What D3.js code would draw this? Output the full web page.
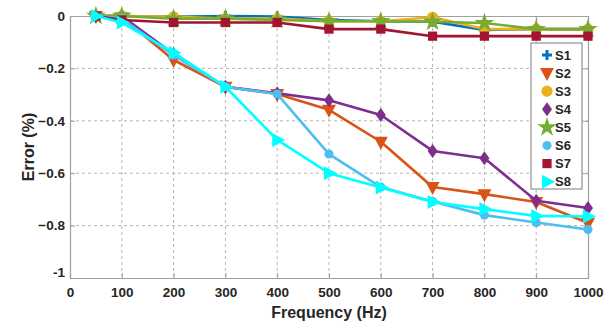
<!DOCTYPE html>
<html>
<head>
  <meta charset="utf-8">
  <title>Error vs Frequency</title>
  <script src="https://cdnjs.cloudflare.com/ajax/libs/d3/7.8.5/d3.min.js"></script>
  <style>
    body { margin: 0; background: #fff; }
    text { font-family: "Liberation Sans", Arial, sans-serif; font-weight: bold; fill: #262626; }
  </style>
</head>
<body>
<div id="chart"></div>
<script>

var freq = [50, 100, 200, 300, 400, 500, 600, 700, 800, 900, 1000];
var names = ['S1', 'S2', 'S3', 'S4', 'S5', 'S6', 'S7', 'S8'];
var s1 = [0, 0, -0.003, 0, -0.002, -0.015, -0.02, -0.022, -0.053, -0.05, -0.05];
var s2 = [0, -0.005, -0.168, -0.27, -0.298, -0.358, -0.48, -0.653, -0.68, -0.71, -0.79];
var s3 = [0, 0, -0.003, -0.01, -0.01, -0.02, -0.02, -0.005, -0.05, -0.05, -0.05];
var s4 = [0, 0, -0.145, -0.27, -0.295, -0.322, -0.378, -0.515, -0.543, -0.705, -0.733];
var s5 = [0, 0, -0.01, -0.01, -0.015, -0.02, -0.02, -0.022, -0.027, -0.05, -0.05];
var s6 = [0, -0.01, -0.15, -0.27, -0.298, -0.527, -0.653, -0.708, -0.76, -0.788, -0.815];
var s7 = [0, -0.015, -0.025, -0.025, -0.025, -0.05, -0.05, -0.077, -0.077, -0.077, -0.077];
var s8 = [0, -0.025, -0.14, -0.27, -0.473, -0.6, -0.655, -0.71, -0.737, -0.763, -0.765];
var xTicks = [0, 100, 200, 300, 400, 500, 600, 700, 800, 900, 1000];
var yTicks = [0, -0.2, -0.4, -0.6, -0.8, -1];

var series = [s1, s2, s3, s4, s5, s6, s7, s8];
var colors = ['#0072BD', '#D95319', '#EDB120', '#7E2F8E', '#77AC30', '#4DBEEE', '#A2142F', '#00FFFF'];

var W = 615, H = 323;
var pL = 70, pR = 588, pT = 16, pB = 278;

var svg = d3.select('#chart').append('svg')
  .attr('width', W)
  .attr('height', H);

var x = d3.scaleLinear().domain([0, 1000]).range([pL, pR]);
var y = d3.scaleLinear().domain([-1, 0]).range([pB, pT]);

// dashed grid
var grid = svg.append('g');
grid.selectAll('line.gx')
  .data(xTicks.slice(1, -1))
  .enter().append('line')
  .attr('x1', function(d) { return x(d); })
  .attr('x2', function(d) { return x(d); })
  .attr('y1', pT).attr('y2', pB)
  .attr('stroke', '#b5b5b5').attr('stroke-dasharray', '3,3').attr('stroke-width', 1);
grid.selectAll('line.gy')
  .data(yTicks.slice(1, -1))
  .enter().append('line')
  .attr('y1', function(d) { return y(d); })
  .attr('y2', function(d) { return y(d); })
  .attr('x1', pL).attr('x2', pR)
  .attr('stroke', '#b5b5b5').attr('stroke-dasharray', '3,3').attr('stroke-width', 1);

// axes (ticks point inward, box all round)
var axisCol = '#a0a0a0';
var xAxis = svg.append('g')
  .attr('transform', 'translate(0,' + pB + ')')
  .call(d3.axisBottom(x).tickValues(xTicks).tickSize(-5).tickPadding(9).tickFormat(d3.format('d')));
var yAxis = svg.append('g')
  .attr('transform', 'translate(' + pL + ',0)')
  .call(d3.axisLeft(y).tickValues(yTicks).tickSize(-5).tickPadding(5).tickFormat(function(d) { return d === 0 ? '0' : d === -1 ? '-1' : d3.format('.1f')(d); }));
svg.append('g')
  .attr('transform', 'translate(0,' + pT + ')')
  .call(d3.axisTop(x).tickValues(xTicks).tickSize(-5).tickFormat(''));
svg.append('g')
  .attr('transform', 'translate(' + pR + ',0)')
  .call(d3.axisRight(y).tickValues(yTicks).tickSize(-5).tickFormat(''));

svg.selectAll('.domain').attr('stroke', axisCol).attr('stroke-width', 1.2);
svg.selectAll('.tick line').attr('stroke', axisCol);
svg.selectAll('.tick text').style('font-size', '13.5px').style('font-family', '"Liberation Sans", Arial, sans-serif').style('font-weight', 'bold').attr('fill', '#262626');
yAxis.selectAll('.tick text').filter(function(d) { return d === -1; }).attr('dy', '-0.1em');

// markers
function marker(i) {
  switch (i) {
    case 0: return 'M-5,0L5,0M0,-5L0,5';
    case 1: return 'M-7,-5L7,-5L0,8Z';
    case 2: return d3.symbol().type(d3.symbolCircle).size(100)();
    case 3: return 'M0,-7L5,0L0,7L-5,0Z';
    case 4: return d3.symbol().type(d3.symbolStar).size(120)();
    case 5: return d3.symbol().type(d3.symbolCircle).size(65)();
    case 6: return d3.symbol().type(d3.symbolSquare).size(85)();
    case 7: return 'M-5,-7L8,0L-5,7Z';
  }
}

var line = d3.line()
  .x(function(d, i) { return x(freq[i]); })
  .y(function(d) { return y(d); });

series.forEach(function(vals, i) {
  var g = svg.append('g');
  g.append('path')
    .attr('d', line(vals))
    .attr('fill', 'none')
    .attr('stroke', colors[i])
    .attr('stroke-width', 2.6)
    .attr('stroke-linejoin', 'round');
  g.selectAll('path.m')
    .data(vals)
    .enter().append('path')
    .attr('class', 'm')
    .attr('d', marker(i))
    .attr('transform', function(d, j) { return 'translate(' + x(freq[j]) + ',' + y(d) + ')'; })
    .attr('fill', colors[i])
    .attr('stroke', i === 0 ? colors[i] : 'none')
    .attr('stroke-width', i === 0 ? 3 : 0);
});

// legend
var lg = svg.append('g');
lg.append('rect')
  .attr('x', 531).attr('y', 43).attr('width', 51).attr('height', 146)
  .attr('fill', '#fff').attr('stroke', '#7a7a7a').attr('stroke-width', 1);
names.forEach(function(n, i) {
  var cy = 55 + i * 18.1;
  lg.append('path')
    .attr('d', marker(i))
    .attr('transform', 'translate(547,' + cy + ')')
    .attr('fill', colors[i])
    .attr('stroke', i === 0 ? colors[i] : 'none')
    .attr('stroke-width', i === 0 ? 3 : 0);
  lg.append('text')
    .attr('x', 555).attr('y', cy).attr('dy', '0.36em')
    .style('font-size', '13px')
    .text(n);
});

// axis labels
svg.append('text')
  .attr('x', (pL + pR) / 2).attr('y', 318)
  .attr('text-anchor', 'middle')
  .style('font-size', '16px')
  .text('Frequency (Hz)');
svg.append('text')
  .attr('transform', 'translate(34,' + ((pT + pB) / 2) + ') rotate(-90)')
  .attr('text-anchor', 'middle')
  .style('font-size', '16px')
  .text('Error (%)');

</script>
</body>
</html>
